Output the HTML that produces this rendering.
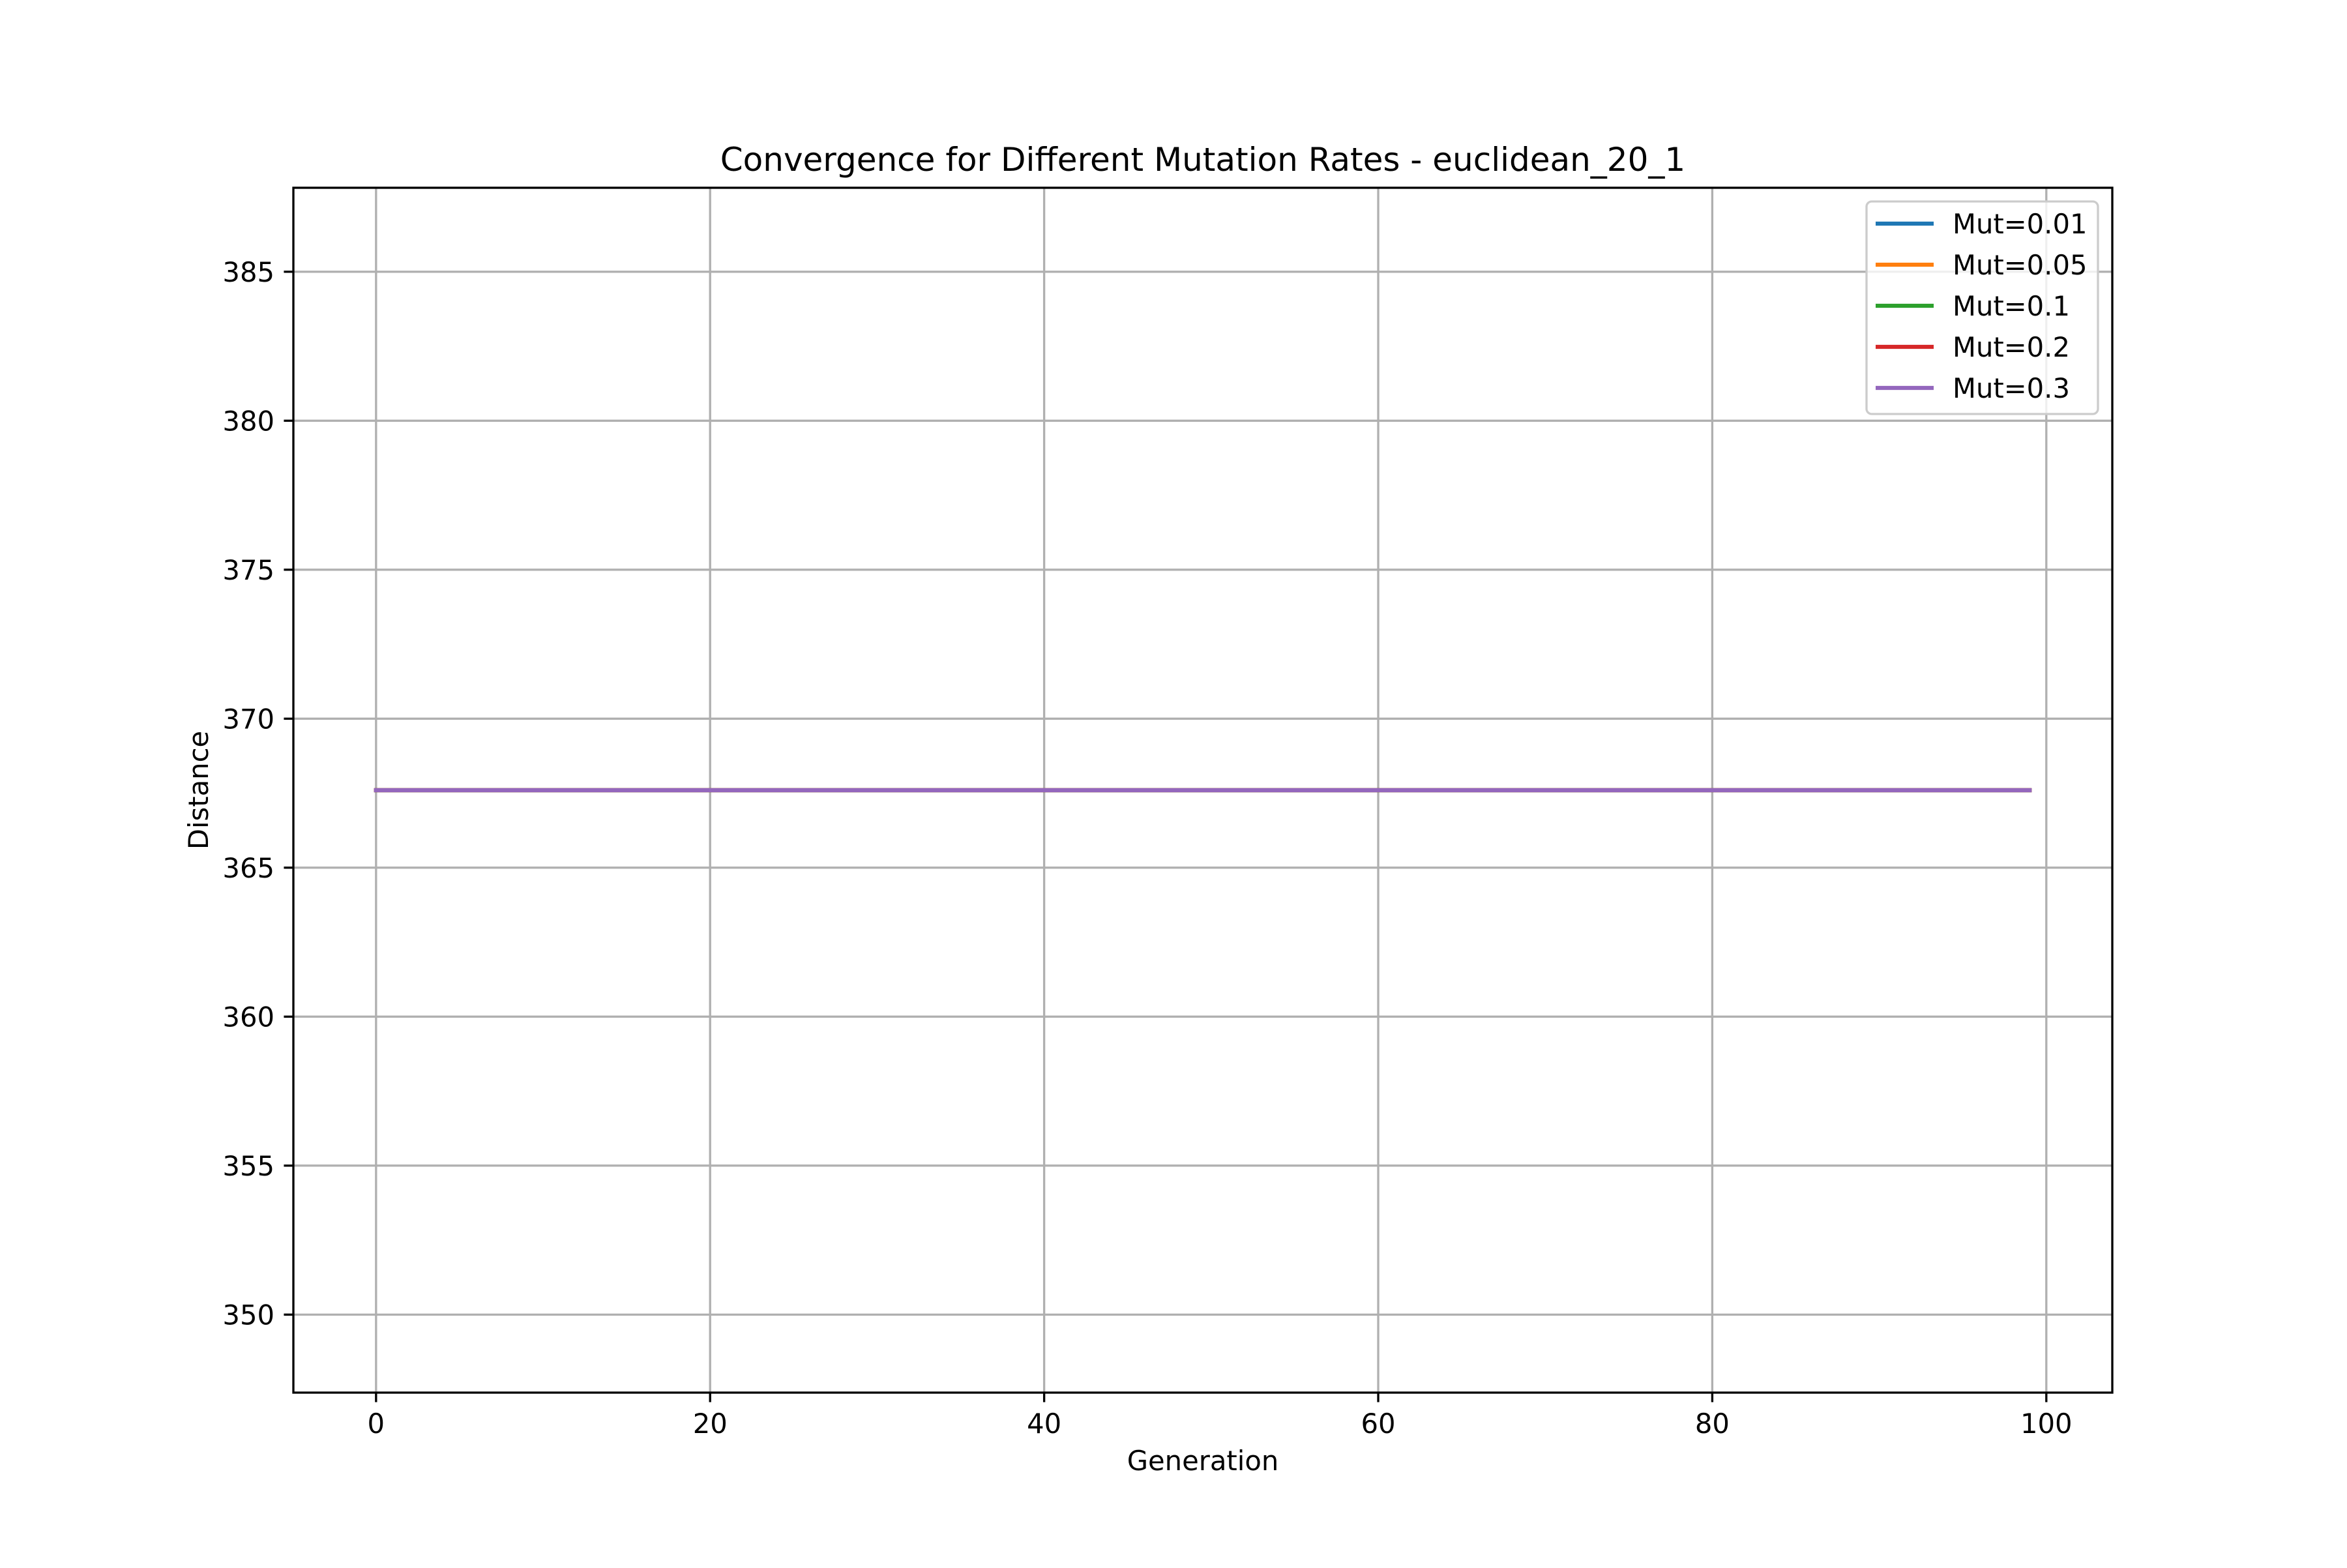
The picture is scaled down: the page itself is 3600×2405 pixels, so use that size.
<!DOCTYPE html>
<html><head><meta charset="utf-8"><style>
html,body{margin:0;padding:0;background:#fff;}
svg text{font-family:"DejaVu Sans","Liberation Sans",sans-serif;fill:#000;}
</style></head><body>
<svg id="chart" xmlns="http://www.w3.org/2000/svg" width="3600" height="2400" viewBox="0 0 3600 2400">
<rect x="0" y="0" width="3600" height="2400" fill="#fff"/>
<g id="grid"></g>
<g id="series"></g>
<rect x="450" y="288" width="2790" height="1848" fill="none" stroke="#000" stroke-width="3.33"/>
<g id="ticks"></g>
<text x="1845" y="262" font-size="50" text-anchor="middle">Convergence for Different Mutation Rates - euclidean_20_1</text>
<text x="1845" y="2255" font-size="41.7" text-anchor="middle">Generation</text>
<text x="0" y="0" font-size="41.7" text-anchor="middle" transform="translate(319,1212) rotate(-90)">Distance</text>
<g id="legend"></g>
</svg>
<script>
const seriesNames = ["Mut=0.01","Mut=0.05","Mut=0.1","Mut=0.2","Mut=0.3"];
const seriesColors = ["#1f77b4","#ff7f0e","#2ca02c","#d62728","#9467bd"];
const seriesLevels = [367.6, 367.6, 367.6, 367.6, 367.6];
const generationCount = 100;
const xTicks = [0,20,40,60,80,100];
const yTicks = [350,355,360,365,370,375,380,385];

const NS = "http://www.w3.org/2000/svg";
const L=450,R=3240,T=288,B=2136;
const xMin=-4.95, xMax=103.95;
const vmax=Math.max(...seriesLevels), vmin=Math.min(...seriesLevels);
let yLo, yHi;
if (vmax-vmin < 1e-9) { yLo = vmin*0.95; yHi = vmax*1.05; } else { yLo=vmin; yHi=vmax; }
const pad=(yHi-yLo)*0.05; yLo-=pad; yHi+=pad;
const xs = v => L + (v-xMin)/(xMax-xMin)*(R-L);
const ys = v => B - (v-yLo)/(yHi-yLo)*(B-T);
function mk(tag, attrs, parent){const e=document.createElementNS(NS,tag);for(const k in attrs)e.setAttribute(k,attrs[k]);parent.appendChild(e);return e;}
const grid=document.getElementById('grid'), ticks=document.getElementById('ticks');
xTicks.forEach(t=>{
  const x=xs(t);
  const g=mk('line',{x1:x,x2:x,y1:T,y2:B,stroke:'#b0b0b0','stroke-width':3.33},grid);
  
  
  const tk=mk('line',{x1:x,x2:x,y1:B,y2:B+14.6,stroke:'#000','stroke-width':3.33},ticks);
  
  
  const lb=mk('text',{x:x,y:2198,'font-size':41.7,'text-anchor':'middle'},ticks);
  lb.textContent=t;
  
  
});
yTicks.forEach(t=>{
  const y=ys(t);
  const g=mk('line',{x1:L,x2:R,y1:y,y2:y,stroke:'#b0b0b0','stroke-width':3.33},grid);
  
  
  const tk=mk('line',{x1:L-14.6,x2:L,y1:y,y2:y,stroke:'#000','stroke-width':3.33},ticks);
  
  
  const lb=mk('text',{x:L-29,y:y+15,'font-size':41.7,'text-anchor':'end'},ticks);
  lb.textContent=t;
  
  
});
const series=document.getElementById('series');
seriesLevels.forEach((v,i)=>{
  const pts=[];
  for(let g=0;g<generationCount;g++) pts.push(xs(g)+','+ys(v));
  const pl=mk('polyline',{points:pts.join(' '),fill:'none',stroke:seriesColors[i],'stroke-width':6.25,'stroke-linecap':'square'},series);
  
  
});
const legend=document.getElementById('legend');
const box=mk('rect',{x:2863,y:309,width:355,height:326,rx:8,fill:'#fff','fill-opacity':0.8,stroke:'#cccccc','stroke-width':3.33},legend);


seriesNames.forEach((n,i)=>{
  const y=343+i*63;
  const ln=mk('line',{x1:2877,x2:2966,y1:y,y2:y,stroke:seriesColors[i],'stroke-width':6.25},legend);
  
  
  const tx=mk('text',{x:2995,y:y+15,'font-size':41.7},legend);
  tx.textContent=n;
  
  
});
</script>
</body></html>
